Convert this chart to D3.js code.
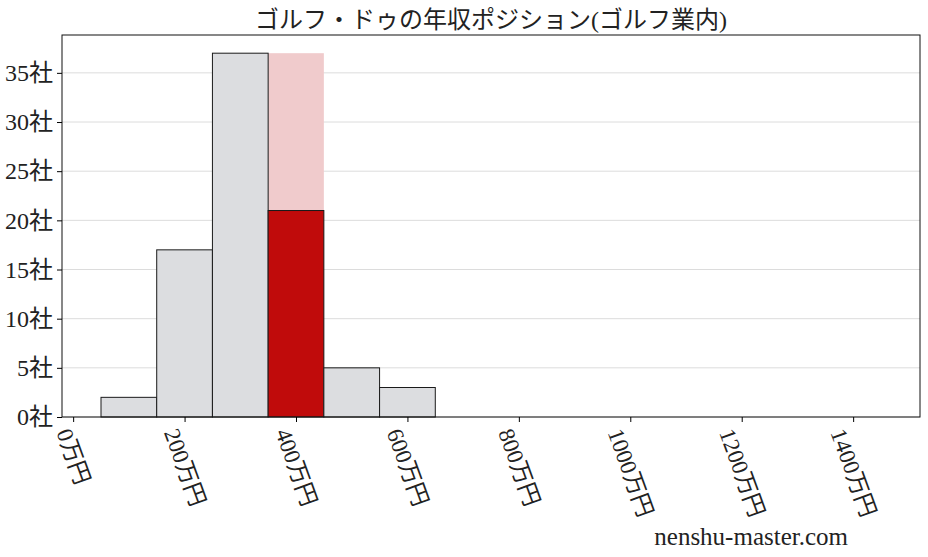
<!DOCTYPE html>
<html>
<head>
<meta charset="utf-8">
<script src="https://cdn.jsdelivr.net/npm/d3@7"></script>
<style>
  body { margin: 0; background: #fff; }
  text { font-family: "Liberation Serif", "DejaVu Serif", "Noto Sans CJK JP", serif; fill: #222; }
</style>
</head>
<body>
<svg id="chart" width="928" height="557"></svg>
<script>
// bins of 100万円, centred on these values
var bin_starts = [50, 150, 250, 350, 450, 550];
var bin_counts = [2, 17, 37, 21, 5, 3];
var bin_width = 100;
var highlight_index = 3;          // the company's own bin
var highlight_max = 37;           // background bar height
var x_ticks = [0, 200, 400, 600, 800, 1000, 1200, 1400];
var y_ticks = [0, 5, 10, 15, 20, 25, 30, 35];
var title_text = "ゴルフ・ドゥの年収ポジション(ゴルフ業内)";
var watermark = "nenshu-master.com";

var margin = {left: 62, right: 8, top: 35, bottom: 140};
var width = 928, height = 557;

var svg = d3.select("#chart");

var x = d3.scaleLinear()
  .domain([-20, 1520])
  .range([margin.left, width - margin.right]);
var y = d3.scaleLinear()
  .domain([0, 38.85])
  .range([height - margin.bottom, margin.top]);

// grid
svg.append("g").selectAll("line")
  .data(y_ticks)
  .enter()
  .append("line")
    .attr("x1", margin.left)
    .attr("x2", width - margin.right)
    .attr("y1", function(d){return y(d);})
    .attr("y2", function(d){return y(d);})
    .style("stroke", "#dcdcdc")
    .style("stroke-width", 1);

// pink background bar for the highlighted bin
svg.append("rect")
  .attr("x", x(bin_starts[highlight_index]))
  .attr("width", x(bin_starts[highlight_index] + bin_width) - x(bin_starts[highlight_index]))
  .attr("y", y(highlight_max))
  .attr("height", y(0) - y(highlight_max))
  .style("fill", "#f0cbcc");

// bars
svg.append("g").selectAll("rect")
  .data(bin_counts)
  .enter()
  .append("rect")
    .attr("x", function(d, i){return x(bin_starts[i]);})
    .attr("width", function(d, i){return x(bin_starts[i] + bin_width) - x(bin_starts[i]);})
    .attr("y", function(d){return y(d);})
    .attr("height", function(d){return y(0) - y(d);})
    .style("fill", function(d, i){return i == highlight_index ? "#c00b0b" : "#dcdde0";})
    .style("stroke", "#1a1a1a")
    .style("stroke-width", 1);

// frame
svg.append("rect")
  .attr("x", margin.left)
  .attr("y", margin.top)
  .attr("width", width - margin.right - margin.left)
  .attr("height", height - margin.bottom - margin.top)
  .style("fill", "none")
  .style("stroke", "#111")
  .style("stroke-width", 1);

// y axis
var y_axis = svg.append("g")
  .attr("transform", "translate(" + margin.left + ",0)")
  .call(d3.axisLeft(y).tickValues(y_ticks).tickSize(5).tickPadding(4)
    .tickFormat(function(d){return d + "社";}));
y_axis.select(".domain").remove();
y_axis.selectAll("text").style("font-size", "24px").style("fill", "#222");

// x axis
var x_axis = svg.append("g")
  .attr("transform", "translate(0," + (height - margin.bottom) + ")")
  .call(d3.axisBottom(x).tickValues(x_ticks).tickSize(5)
    .tickFormat(function(d){return d + "万円";}));
x_axis.select(".domain").remove();

// rotate labels so the rotated box is centred under the tick
var angle = 70 * Math.PI / 180;
x_axis.selectAll(".tick text")
  .style("font-size", "23px")
  .style("fill", "#222")
  .attr("text-anchor", "middle")
  .attr("dy", "0.35em")
  .attr("y", 0)
  .each(function(){
    let len = this.getComputedTextLength();
    let h = 20;
    let half_h = (len / 2) * Math.sin(angle) + (h / 2) * Math.cos(angle);
    d3.select(this).attr("transform", "translate(0," + (9 + half_h) + ") rotate(70)");
  });

// title
svg.append("text")
  .attr("x", (margin.left + width - margin.right) / 2)
  .attr("y", 28)
  .attr("text-anchor", "middle")
  .style("font-size", "24px")
  .text(title_text);

// watermark
svg.append("text")
  .attr("x", 848)
  .attr("y", 545)
  .attr("text-anchor", "end")
  .style("font-size", "25px")
  .text(watermark);
</script>
</body>
</html>
